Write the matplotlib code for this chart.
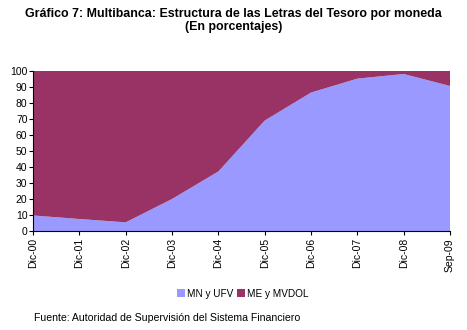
import numpy as np
import matplotlib.pyplot as plt

plt.rcParams['font.family'] = ['Liberation Sans', 'DejaVu Sans']

periodos = ["Dic-00", "Dic-01", "Dic-02", "Dic-03", "Dic-04",
            "Dic-05", "Dic-06", "Dic-07", "Dic-08", "Sep-09"]
mn_ufv = np.array([9.7, 7.5, 5.4, 20.0, 37.2, 69.0, 86.5, 95.2, 98.1, 90.6])
me_mvdol = 100 - mn_ufv

fig = plt.figure(figsize=(4.67, 3.30), dpi=100)
ax = fig.add_axes([0.0707, 0.30, 0.893, 0.485])

x = np.arange(len(periodos))
ax.stackplot(x, mn_ufv, me_mvdol, colors=["#9999FF", "#993366"],
             labels=["MN y UFV", "ME y MVDOL"])

ax.set_xlim(0, len(periodos) - 1)
ax.set_ylim(0, 100)
ax.set_yticks(range(0, 101, 10))
ax.set_xticks(x)
ax.set_xticklabels(periodos, rotation=90, fontsize=7.5)
ax.tick_params(axis='y', labelsize=7.5, length=3, pad=1)
ax.tick_params(axis='x', length=3, pad=2)
for s in ["top", "right"]:
    ax.spines[s].set_visible(False)

fig.text(0.5, 0.958, "Gráfico 7: Multibanca: Estructura de las Letras del Tesoro por moneda",
         ha='center', va='center', fontsize=8.9, fontweight='bold')
fig.text(0.5, 0.918, "(En porcentajes)", ha='center', va='center',
         fontsize=8.9, fontweight='bold')

fig.legend(loc='center', bbox_to_anchor=(0.52, 0.11), ncol=2, frameon=False,
           fontsize=7.2, handlelength=0.8, handleheight=0.8, handletextpad=0.2,
           columnspacing=0.3)

fig.text(0.073, 0.035, "Fuente: Autoridad de Supervisión del Sistema Financiero",
         ha='left', va='center', fontsize=7.6)

fig.savefig("out.png", dpi=100)
